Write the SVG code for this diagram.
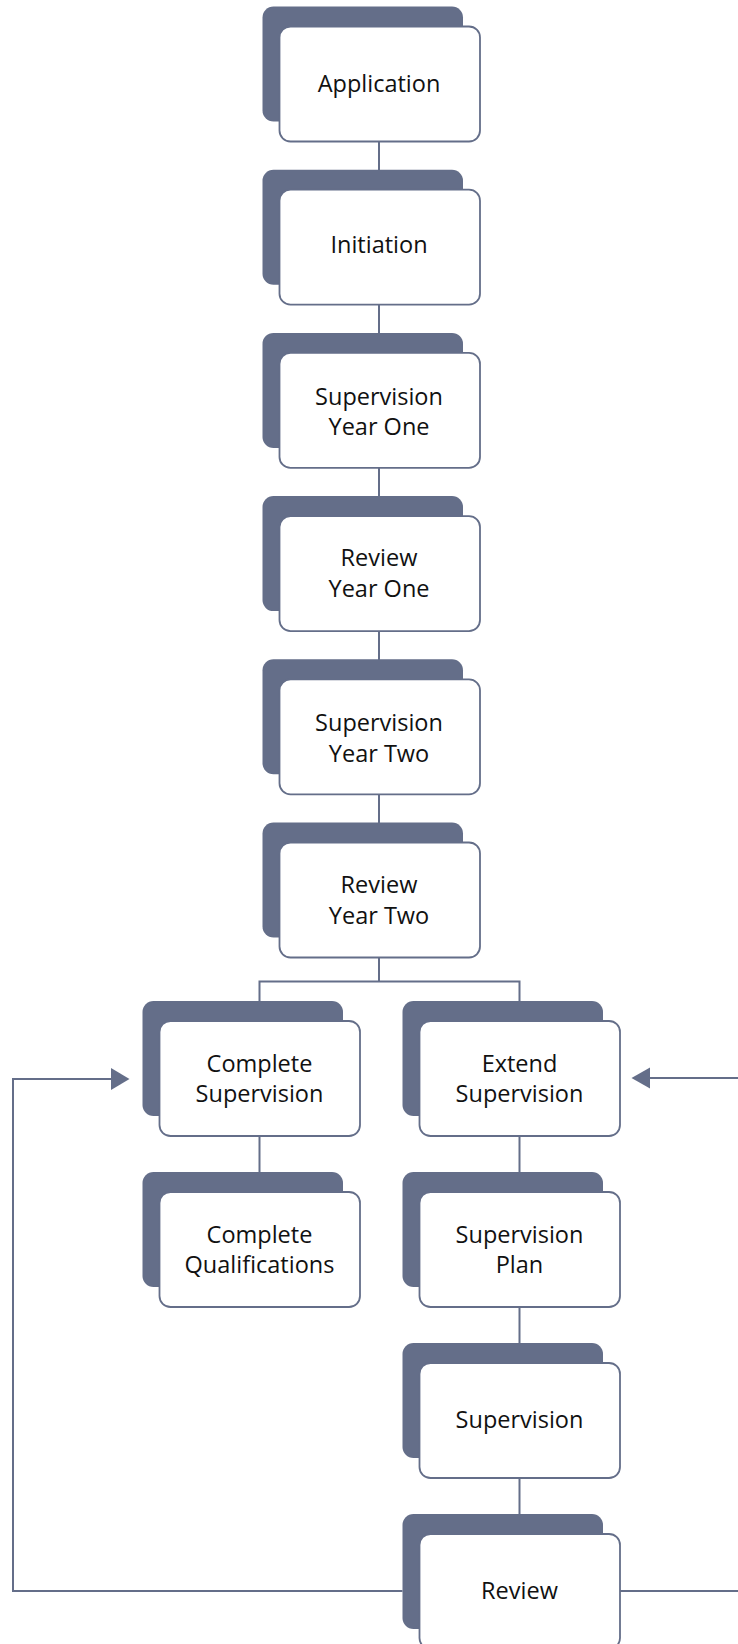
<svg xmlns="http://www.w3.org/2000/svg" width="738" height="1644" viewBox="0 0 738 1644">
<style>
.back{fill:#646e89;}
.front{fill:#ffffff;stroke:#646e89;stroke-width:1.8;}
.lbl{font-family:"Open Sans","Noto Sans",sans-serif;font-size:23.5px;fill:#111111;text-anchor:middle;}
.conn{fill:none;stroke:#646e89;stroke-width:2;}
.arrow{fill:#646e89;}
</style>
<rect width="738" height="1644" fill="#ffffff"/>
<g id="connectors">
<line class="conn" x1="379" y1="141" x2="379" y2="170"/>
<line class="conn" x1="379" y1="304" x2="379" y2="333"/>
<line class="conn" x1="379" y1="467" x2="379" y2="496"/>
<line class="conn" x1="379" y1="631" x2="379" y2="660"/>
<line class="conn" x1="379" y1="794" x2="379" y2="823"/>
<polyline class="conn" points="379,957 379,981.5"/>
<polyline class="conn" points="259.5,1001 259.5,981.5 519.5,981.5 519.5,1001"/>
<line class="conn" x1="259.5" y1="1136" x2="259.5" y2="1172"/>
<line class="conn" x1="519.5" y1="1136" x2="519.5" y2="1172"/>
<line class="conn" x1="519.5" y1="1307" x2="519.5" y2="1343"/>
<line class="conn" x1="519.5" y1="1478" x2="519.5" y2="1514"/>
<polyline class="conn" points="402.5,1591 13,1591 13,1079 112,1079"/>
<polygon class="arrow" points="111,1068 129.5,1079 111,1090"/>
<polyline class="conn" points="620,1591 742,1591 742,1078 649,1078"/>
<polygon class="arrow" points="650,1067.5 631.5,1078 650,1088.5"/>
</g>
<g id="n-application">
<rect class="back" x="262.5" y="6.5" width="200.5" height="115" rx="11"/>
<rect class="front" x="279.5" y="26.5" width="200.5" height="115" rx="11"/>
<text class="lbl" x="379" y="92">Application</text>
</g>
<g id="n-initiation">
<rect class="back" x="262.5" y="169.7" width="200.5" height="115" rx="11"/>
<rect class="front" x="279.5" y="189.7" width="200.5" height="115" rx="11"/>
<text class="lbl" x="379" y="253">Initiation</text>
</g>
<g id="n-supervision-year-one">
<rect class="back" x="262.5" y="332.9" width="200.5" height="115" rx="11"/>
<rect class="front" x="279.5" y="352.9" width="200.5" height="115" rx="11"/>
<text class="lbl" x="379" y="404.5">Supervision</text>
<text class="lbl" x="379" y="435.2">Year One</text>
</g>
<g id="n-review-year-one">
<rect class="back" x="262.5" y="496.1" width="200.5" height="115" rx="11"/>
<rect class="front" x="279.5" y="516.1" width="200.5" height="115" rx="11"/>
<text class="lbl" x="379" y="566.2">Review</text>
<text class="lbl" x="379" y="596.9">Year One</text>
</g>
<g id="n-supervision-year-two">
<rect class="back" x="262.5" y="659.3" width="200.5" height="115" rx="11"/>
<rect class="front" x="279.5" y="679.3" width="200.5" height="115" rx="11"/>
<text class="lbl" x="379" y="730.9">Supervision</text>
<text class="lbl" x="379" y="761.6">Year Two</text>
</g>
<g id="n-review-year-two">
<rect class="back" x="262.5" y="822.5" width="200.5" height="115" rx="11"/>
<rect class="front" x="279.5" y="842.5" width="200.5" height="115" rx="11"/>
<text class="lbl" x="379" y="893.1">Review</text>
<text class="lbl" x="379" y="923.8">Year Two</text>
</g>
<g id="n-complete-supervision">
<rect class="back" x="142.5" y="1001" width="200.5" height="115" rx="11"/>
<rect class="front" x="159.5" y="1021" width="200.5" height="115" rx="11"/>
<text class="lbl" x="259.5" y="1071.6">Complete</text>
<text class="lbl" x="259.5" y="1102.3">Supervision</text>
</g>
<g id="n-extend-supervision">
<rect class="back" x="402.5" y="1001" width="200.5" height="115" rx="11"/>
<rect class="front" x="419.5" y="1021" width="200.5" height="115" rx="11"/>
<text class="lbl" x="519.5" y="1071.6">Extend</text>
<text class="lbl" x="519.5" y="1102.3">Supervision</text>
</g>
<g id="n-complete-qualifications">
<rect class="back" x="142.5" y="1172" width="200.5" height="115" rx="11"/>
<rect class="front" x="159.5" y="1192" width="200.5" height="115" rx="11"/>
<text class="lbl" x="259.5" y="1242.6">Complete</text>
<text class="lbl" x="259.5" y="1273.3">Qualifications</text>
</g>
<g id="n-supervision-plan">
<rect class="back" x="402.5" y="1172" width="200.5" height="115" rx="11"/>
<rect class="front" x="419.5" y="1192" width="200.5" height="115" rx="11"/>
<text class="lbl" x="519.5" y="1242.6">Supervision</text>
<text class="lbl" x="519.5" y="1273.3">Plan</text>
</g>
<g id="n-supervision">
<rect class="back" x="402.5" y="1343" width="200.5" height="115" rx="11"/>
<rect class="front" x="419.5" y="1363" width="200.5" height="115" rx="11"/>
<text class="lbl" x="519.5" y="1428">Supervision</text>
</g>
<g id="n-review">
<rect class="back" x="402.5" y="1514" width="200.5" height="115" rx="11"/>
<rect class="front" x="419.5" y="1534" width="200.5" height="115" rx="11"/>
<text class="lbl" x="519.5" y="1598.5">Review</text>
</g>
</svg>
